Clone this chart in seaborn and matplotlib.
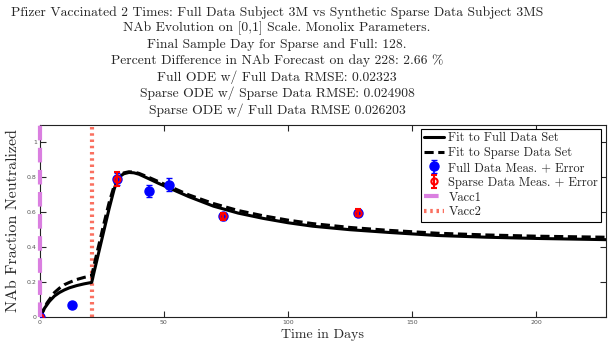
import numpy as np
import pandas as pd
import matplotlib
matplotlib.use("Agg")
import matplotlib.pyplot as plt
import seaborn as sns

# ---- data ----
full_fit_days = [0, 1, 2, 3, 4, 6, 8, 10, 12, 15, 18, 21, 22, 24, 26, 28, 30, 31, 32, 33, 34, 36, 38, 40,
                 44, 48, 52, 60, 70, 80, 90, 100, 110, 125, 140, 160, 180, 200, 228]
full_fit_vals = [0, 0.025, 0.05, 0.07, 0.09, 0.12, 0.14, 0.155, 0.167, 0.18, 0.19, 0.198, 0.26, 0.38, 0.50,
                 0.62, 0.73, 0.772, 0.797, 0.812, 0.821, 0.828, 0.826, 0.818, 0.792, 0.765, 0.74, 0.69,
                 0.635, 0.595, 0.565, 0.54, 0.52, 0.50, 0.485, 0.467, 0.457, 0.45, 0.443]
sparse_fit_days = full_fit_days
sparse_fit_vals = [0, 0.02, 0.05, 0.08, 0.10, 0.14, 0.165, 0.185, 0.198, 0.215, 0.227, 0.236, 0.30, 0.42,
                   0.54, 0.655, 0.75, 0.785, 0.806, 0.818, 0.826, 0.832, 0.83, 0.823, 0.80, 0.775, 0.75,
                   0.70, 0.65, 0.61, 0.58, 0.555, 0.535, 0.513, 0.497, 0.48, 0.47, 0.463, 0.457]

full_days = [0, 13, 31, 44, 52, 74, 128]
full_vals = [0, 0.069, 0.79, 0.72, 0.757, 0.578, 0.596]
full_errs = [0.01, 0.005, 0.035, 0.035, 0.038, 0.02, 0.02]

sparse_days = [0, 31, 74, 128]
sparse_vals = [0, 0.79, 0.578, 0.596]
sparse_errs = [0.01, 0.042, 0.02, 0.02]

vacc1_day = 0
vacc2_day = 21

title_lines = [
    "Pfizer Vaccinated 2 Times: Full Data Subject 3M vs Synthetic Sparse Data Subject 3MS",
    "NAb Evolution on [0,1] Scale. Monolix Parameters.",
    "Final Sample Day for Sparse and Full: 128.",
    "Percent Difference in NAb Forecast on day 228: 2.66 %",
    "Full ODE w/ Full Data RMSE: 0.02323",
    "Sparse ODE w/ Sparse Data RMSE: 0.024908",
    "Sparse ODE w/ Full Data RMSE 0.026203",
]
x_ticks = [0, 50, 100, 150, 200]
y_ticks = [0, 0.2, 0.4, 0.6, 0.8, 1.0]
y_tick_labels = ["0", "0.2", "0.4", "0.6", "0.8", "1"]

# ---- plotting ----
sns.set_style("ticks")
serif = ["cmr10", "Liberation Serif", "DejaVu Serif"]
plt.rcParams["axes.formatter.use_mathtext"] = True

fig = plt.figure(figsize=(6.08, 3.45), dpi=100)
ax = fig.add_axes([0.065, 0.0812, 0.9317, 0.5565])

df_full = pd.DataFrame({"day": full_fit_days, "val": full_fit_vals})
df_sparse = pd.DataFrame({"day": sparse_fit_days, "val": sparse_fit_vals})

sns.lineplot(data=df_full, x="day", y="val", ax=ax, color="black", lw=2.2,
             label="Fit to Full Data Set", zorder=3)
sns.lineplot(data=df_sparse, x="day", y="val", ax=ax, color="black", lw=2.2,
             label="Fit to Sparse Data Set", zorder=3)
ax.lines[-1].set_linestyle((0, (3, 1.5)))

eb_full = ax.errorbar(full_days, full_vals, yerr=full_errs, fmt="o", color="blue", ms=6.5,
                      elinewidth=1.2, capsize=2, label="Full Data Meas. + Error", zorder=4)
eb_sparse = ax.errorbar(sparse_days, sparse_vals, yerr=sparse_errs, fmt="o", color="red", mfc="none",
                        mec="red", ms=4.5, mew=1.5, elinewidth=1.5, capsize=2,
                        label="Sparse Data Meas. + Error", zorder=5)

v1 = ax.axvline(vacc1_day, color="#DA7FE0", lw=3, ls=(0, (3.5, 1.8)), label="Vacc1", zorder=6)
v1.set_clip_on(False)
v2 = ax.axvline(vacc2_day, color="#FA7060", lw=3, ls=(0, (0.6, 0.9)), label="Vacc2", zorder=2)

ax.set_xlim(0, 228)
ax.set_ylim(0, 1.1)
ax.set_xticks(x_ticks)
ax.set_xticklabels([str(t) for t in x_ticks])
ax.set_yticks(y_ticks)
ax.set_yticklabels(y_tick_labels)
ax.tick_params(direction="in", length=4, width=0.8, labelsize=4.5, labelcolor="#555555",
               top=True, right=True, pad=2)
for s in ax.spines.values():
    s.set_linewidth(0.8)
    s.set_color("#222222")

ax.set_xlabel("Time in Days", family=serif, fontsize=10, labelpad=3)
ax.set_ylabel("NAb Fraction Neutralized", family=serif, fontsize=11.5, labelpad=5)

handles, labels = ax.get_legend_handles_labels()
order = ["Fit to Full Data Set", "Fit to Sparse Data Set", "Full Data Meas. + Error",
         "Sparse Data Meas. + Error", "Vacc1", "Vacc2"]
hmap = dict(zip(labels, handles))
leg = ax.legend([hmap[l] for l in order], order, loc="upper right",
                prop={"family": serif, "size": 9}, frameon=True,
                fancybox=False, edgecolor="black", framealpha=1, borderpad=0.25,
                labelspacing=0.22, handlelength=1.6, handletextpad=0.35,
                bbox_to_anchor=(0.992, 0.98), borderaxespad=0)
leg.get_frame().set_linewidth(0.8)

fig.text(277 / 608, 1 - 6 / 345, "\n".join(title_lines), ha="center", va="top",
         family=serif, fontsize=9.85, linespacing=1.32)

fig.savefig("out.png", dpi=100)
